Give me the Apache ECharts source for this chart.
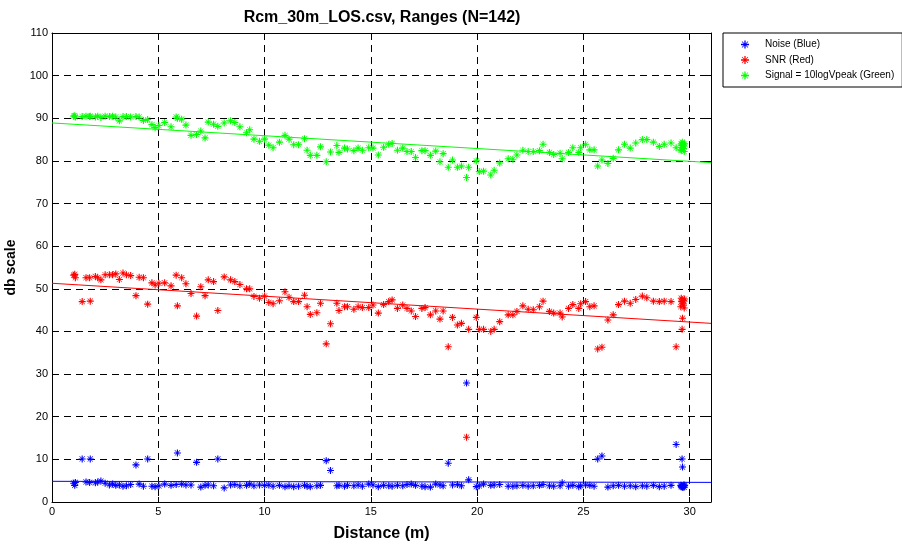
<!DOCTYPE html>
<html>
<head>
<meta charset="utf-8">
<script src="https://cdn.jsdelivr.net/npm/echarts@6/dist/echarts.min.js"></script>
<style>html,body{margin:0;padding:0;background:#fff}#c{width:902px;height:546px}</style>
</head>
<body>
<div id="c"></div>
<script>
const distance = [
1.02,1.07,1.10,1.42,1.60,1.77,1.80,2.04,2.15,2.30,
2.50,2.70,2.85,3.00,3.17,3.34,3.50,3.70,3.95,4.10,
4.30,4.50,4.70,4.85,5.03,5.30,5.60,5.84,5.90,6.10,
6.30,6.54,6.80,7.00,7.20,7.35,7.60,7.80,8.10,8.40,
8.60,8.84,9.15,9.30,9.50,9.76,10.00,10.20,10.40,10.70,
10.96,11.15,11.37,11.60,11.88,12.00,12.15,12.46,12.63,12.90,
13.10,13.40,13.50,13.76,13.90,14.20,14.40,14.60,14.90,15.10,
15.35,15.60,15.84,16.00,16.25,16.50,16.70,16.90,17.10,17.40,
17.55,17.80,18.05,18.25,18.40,18.64,18.84,19.07,19.26,19.50,
19.60,19.96,20.10,20.30,20.64,20.80,21.06,21.46,21.68,21.87,
22.15,22.40,22.64,22.93,23.10,23.40,23.60,23.90,24.00,24.30,
24.50,24.78,24.87,25.10,25.30,25.50,25.67,25.87,26.15,26.40,
26.65,26.93,27.20,27.46,27.77,27.98,28.29,28.57,28.80,29.12,
29.36,29.58,29.60,29.62,29.64,29.65,29.66,29.68,29.70,29.72,29.74,29.76];

const noise = [
4.4,3.9,4.6,10.1,4.7,4.6,10.1,4.5,4.7,4.9,
4.4,4.0,4.2,3.9,4.0,3.7,3.8,4.1,8.7,4.2,
3.7,10.1,3.7,3.6,3.8,4.2,3.9,4.1,11.5,4.2,
4.0,4.0,9.3,3.5,3.9,4.0,3.8,10.1,3.3,4.0,
4.1,3.8,3.9,4.2,3.8,4.0,3.9,4.0,3.7,3.9,
3.6,3.8,3.6,3.7,3.9,3.7,3.6,3.8,3.9,9.7,
7.4,3.8,3.9,3.7,3.9,3.8,4.0,3.7,4.2,4.0,
3.6,3.9,3.8,3.7,3.9,3.8,4.1,4.2,3.9,3.7,
3.6,3.5,4.2,4.0,3.8,9.1,4.0,4.1,3.8,27.9,
5.2,3.6,3.8,4.2,3.9,4.0,4.1,3.7,3.7,3.8,
3.9,3.7,3.8,3.9,4.1,3.8,3.7,3.8,4.5,3.7,
3.9,3.6,3.8,4.0,3.9,3.7,10.1,10.8,3.5,3.8,
3.9,3.7,3.8,3.6,3.8,3.7,3.9,3.6,3.7,3.9,
13.5,3.9,3.6,3.8,10.1,3.5,8.2,3.4,3.7,4.0,3.5,3.9];

const snr = [
53.2,53.4,52.6,47.0,52.6,52.6,47.1,52.9,52.6,52.1,
53.3,53.3,53.3,53.5,52.2,53.7,53.3,53.1,48.4,52.7,
52.6,46.4,51.4,50.9,51.3,51.4,50.7,53.2,46.0,52.6,
51.2,48.9,43.6,50.5,48.4,52.1,51.7,44.9,52.8,52.1,
51.7,51.0,50.0,50.0,48.2,47.8,48.3,46.8,46.5,47.2,
49.3,48.0,47.0,47.0,48.5,45.8,44.0,44.4,46.6,37.1,
41.8,46.6,44.9,45.8,45.8,45.2,45.8,45.6,45.6,46.2,
44.3,46.3,47.0,47.4,45.4,46.2,45.4,44.8,43.5,45.4,
45.6,43.9,44.8,42.9,44.8,36.4,43.3,41.5,41.9,15.2,
40.5,43.3,40.5,40.5,40.0,40.5,42.3,43.9,43.9,44.7,
46.0,45.2,45.1,45.8,47.1,44.7,44.3,44.3,43.4,45.4,
46.3,45.4,46.5,47.0,45.8,46.0,35.9,36.3,42.7,43.9,
46.3,47.1,46.6,47.5,48.3,47.9,47.1,47.0,47.1,47.0,
36.4,45.8,47.8,47.0,40.5,47.4,43.1,46.6,46.2,47.2,45.5,47.6];

const signal = [
90.5,90.6,90.3,90.4,90.5,90.4,90.5,90.3,90.5,90.2,
90.5,90.4,90.5,90.3,89.4,90.4,90.4,90.3,90.4,90.3,
89.5,89.7,88.5,87.8,88.3,89.0,88.0,90.3,90.0,89.8,
88.4,86.0,86.2,87.0,85.4,89.1,88.6,88.1,88.9,89.4,
89.0,88.0,86.6,87.3,85.1,84.6,85.1,83.7,83.1,84.4,
86.0,85.1,83.8,83.8,85.2,82.5,81.3,81.3,83.3,79.8,
82.1,83.6,82.0,83.0,82.8,82.4,83.0,82.5,83.1,83.0,
81.4,83.2,83.9,84.1,82.5,83.0,82.2,82.2,80.8,82.4,
82.4,81.3,82.3,79.8,81.7,78.5,80.2,78.5,78.8,76.1,
78.5,80.0,77.5,77.6,76.7,77.8,79.5,80.5,80.4,81.4,
82.5,82.2,82.2,82.4,83.9,82.0,81.5,81.8,80.5,82.0,
83.1,82.0,83.1,83.9,82.6,82.6,78.8,80.2,79.4,80.6,
82.6,83.9,83.0,84.2,85.0,85.0,84.4,83.4,83.9,84.2,
83.1,82.6,84.0,82.5,83.6,84.4,83.2,83.8,82.9,83.5,82.2,84.0];

const fitX = [0, 31];
const noiseFit = [4.85, 4.6];
const snrFit = [51.3, 41.9];
const signalFit = [88.9, 79.6];

const names = ['Noise (Blue)', 'SNR (Red)', 'Signal = 10logVpeak (Green)'];
const titleText = 'Rcm_30m_LOS.csv, Ranges (N=142)';
const xName = 'Distance (m)';
const yName = 'db scale';

const star = 'path://M0,4.2 L10,4.2 L10,5.8 L0,5.8 Z M4.2,0 L5.8,0 L5.8,10 L4.2,10 Z M1.5,0.9 L9.1,8.5 L8.5,9.1 L0.9,1.5 Z M8.5,0.9 L9.1,1.5 L1.5,9.1 L0.9,8.5 Z';
const FONT = 'Liberation Sans, Arial, Helvetica, sans-serif';

const chart = echarts.init(document.getElementById('c'), null, {renderer: 'canvas'});
const pts = (ys) => distance.map((d, i) => [d, ys[i]]);
const line = (ys) => fitX.map((x, i) => [x, ys[i]]);
const colors = ['#0000ff', '#ff0000', '#00ff00'];
const dash = [7, 5];

const baseAxis = {
  axisLine: {show: true, onZero: false, lineStyle: {color: '#000', width: 1}},
  axisTick: {show: true, inside: true, length: 5, lineStyle: {color: '#000'}},
  axisLabel: {color: '#000', fontFamily: FONT, fontSize: 11},
  splitLine: {show: false},
  minorTick: {show: false}
};

const option = {
  animation: false,
  backgroundColor: '#fff',
  title: {
    text: titleText, left: 377, top: 5, textAlign: 'center',
    textStyle: {fontFamily: FONT, fontSize: 16, fontWeight: 'bold', color: '#000'}
  },
  grid: {left: 52, right: 191, top: 33, bottom: 44, containLabel: false, outerBoundsMode: 'none'},
  legend: {
    data: names.map(n => ({name: n, icon: star})),
    orient: 'vertical', left: 723, top: 33,
    padding: [6, 8, 6, 18], itemWidth: 8, itemHeight: 8, itemGap: 4.5,
    backgroundColor: '#fff', borderColor: '#000', borderWidth: 1, borderRadius: 0,
    textStyle: {fontFamily: FONT, fontSize: 10, lineHeight: 11, color: '#000', padding: [0, 0, 0, 11]},
    selectedMode: false
  },
  xAxis: [
    Object.assign({}, baseAxis, {
      type: 'value', min: 0, max: 31, interval: 5, position: 'bottom',
      name: xName, nameLocation: 'middle', nameGap: 24,
      nameTextStyle: {fontFamily: FONT, fontSize: 16, fontWeight: 'bold', color: '#000'},
      axisLabel: {color: '#000', fontFamily: FONT, fontSize: 11, margin: 4, showMaxLabel: false},
      splitLine: {show: true, lineStyle: {color: '#000', width: 1, type: dash}}
    }),
    Object.assign({}, baseAxis, {
      type: 'value', min: 0, max: 31, interval: 5, position: 'top',
      axisLabel: {show: false}
    })
  ],
  yAxis: [
    Object.assign({}, baseAxis, {
      type: 'value', min: 0, max: 110, interval: 10, position: 'left',
      name: yName, nameLocation: 'middle', nameGap: 34,
      nameTextStyle: {fontFamily: FONT, fontSize: 14, fontWeight: 'bold', color: '#000'},
      axisLabel: {color: '#000', fontFamily: FONT, fontSize: 11, margin: 4},
      splitLine: {show: true, lineStyle: {color: '#000', width: 1, type: dash}}
    }),
    Object.assign({}, baseAxis, {
      type: 'value', min: 0, max: 110, interval: 10, position: 'right',
      axisLabel: {show: false}
    })
  ],
  series: [
    {name: names[0], type: 'scatter', data: pts(noise), symbol: star, symbolSize: 7,
     itemStyle: {color: colors[0], opacity: 1}, z: 3},
    {name: names[1], type: 'scatter', data: pts(snr), symbol: star, symbolSize: 7,
     itemStyle: {color: colors[1], opacity: 1}, z: 3},
    {name: names[2], type: 'scatter', data: pts(signal), symbol: star, symbolSize: 7,
     itemStyle: {color: colors[2], opacity: 1}, z: 3},
    {name: 'noiseFit', type: 'line', data: line(noiseFit), showSymbol: false, symbol: 'none',
     lineStyle: {color: colors[0], width: 1}, z: 4},
    {name: 'snrFit', type: 'line', data: line(snrFit), showSymbol: false, symbol: 'none',
     lineStyle: {color: colors[1], width: 1}, z: 4},
    {name: 'signalFit', type: 'line', data: line(signalFit), showSymbol: false, symbol: 'none',
     lineStyle: {color: colors[2], width: 1}, z: 4}
  ]
};
chart.setOption(option);
</script>
</body>
</html>
